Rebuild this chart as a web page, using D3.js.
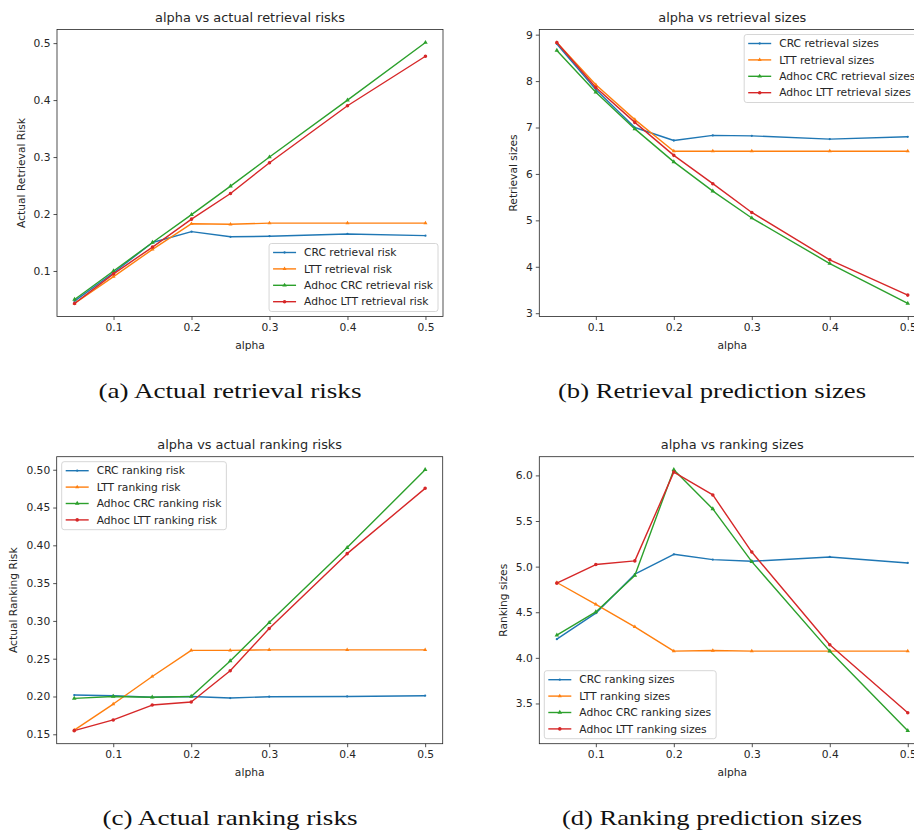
<!DOCTYPE html>
<html>
<head>
<meta charset="utf-8">
<script src="https://cdn.jsdelivr.net/npm/d3@7"></script>
<style>
  body { margin: 0; background: #fff; }
  svg text { font-family: "DejaVu Sans", sans-serif; fill: #262626; }
  .caption { font-family: "Liberation Serif", "DejaVu Serif", serif; fill: #111; }
</style>
</head>
<body>
<svg id="chart" width="914" height="830"></svg>
<script>
// alpha values shared by every panel
var alpha = [0.05, 0.1, 0.15, 0.2, 0.25, 0.3, 0.4, 0.5];

// (a) actual retrieval risks
var crcRetrievalRisk   = [0.047, 0.097, 0.150, 0.169, 0.160, 0.161, 0.165, 0.162];
var lttRetrievalRisk   = [0.043, 0.090, 0.138, 0.183, 0.182, 0.184, 0.184, 0.184];
var adhocCrcRetrRisk   = [0.050, 0.100, 0.150, 0.199, 0.249, 0.300, 0.400, 0.501];
var adhocLttRetrRisk   = [0.043, 0.095, 0.142, 0.191, 0.236, 0.290, 0.390, 0.477];

// (b) retrieval sizes
var crcRetrievalSize   = [8.80, 7.82, 7.00, 6.72, 6.83, 6.82, 6.75, 6.80];
var lttRetrievalSize   = [8.83, 7.92, 7.17, 6.49, 6.49, 6.49, 6.49, 6.49];
var adhocCrcRetrSize   = [8.66, 7.76, 6.97, 6.26, 5.63, 5.05, 4.07, 3.21];
var adhocLttRetrSize   = [8.83, 7.86, 7.11, 6.40, 5.79, 5.17, 4.15, 3.39];

// (c) actual ranking risks
var crcRankingRisk     = [0.2019, 0.2010, 0.1990, 0.2000, 0.1980, 0.1997, 0.2000, 0.2010];
var lttRankingRisk     = [0.1555, 0.1900, 0.2265, 0.2610, 0.2610, 0.2617, 0.2617, 0.2617];
var adhocCrcRankRisk   = [0.1975, 0.2000, 0.1990, 0.2000, 0.2470, 0.2978, 0.3970, 0.5000];
var adhocLttRankRisk   = [0.1548, 0.1690, 0.1887, 0.1927, 0.2340, 0.2900, 0.3890, 0.4754];

// (d) ranking sizes
var crcRankingSize     = [4.205, 4.490, 4.917, 5.135, 5.077, 5.059, 5.106, 5.040];
var lttRankingSize     = [4.826, 4.587, 4.340, 4.074, 4.081, 4.074, 4.074, 4.074];
var adhocCrcRankSize   = [4.249, 4.503, 4.903, 6.062, 5.633, 5.055, 4.074, 3.202];
var adhocLttRankSize   = [4.819, 5.023, 5.063, 6.036, 5.786, 5.160, 4.143, 3.398];

var xTicks = [0.1, 0.2, 0.3, 0.4, 0.5];
var colors = ["#1f77b4", "#ff7f0e", "#2ca02c", "#d62728"];

var panels = [
  {
    left: 57, top: 29.5, title: "alpha vs actual retrieval risks", ylabel: "Actual Retrieval Risk",
    series: [crcRetrievalRisk, lttRetrievalRisk, adhocCrcRetrRisk, adhocLttRetrRisk],
    names: ["CRC retrieval risk", "LTT retrieval risk", "Adhoc CRC retrieval risk", "Adhoc LTT retrieval risk"],
    yTicks: [0.1, 0.2, 0.3, 0.4, 0.5], fmt: ".1f", legend: "lower right",
    caption: "(a) Actual retrieval risks", capX: 230, capY: 398, capW: 263
  },
  {
    left: 539.3, top: 29.5, title: "alpha vs retrieval sizes", ylabel: "Retrieval sizes",
    series: [crcRetrievalSize, lttRetrievalSize, adhocCrcRetrSize, adhocLttRetrSize],
    names: ["CRC retrieval sizes", "LTT retrieval sizes", "Adhoc CRC retrieval sizes", "Adhoc LTT retrieval sizes"],
    yTicks: [3, 4, 5, 6, 7, 8, 9], fmt: "d", legend: "upper right",
    caption: "(b) Retrieval prediction sizes", capX: 712, capY: 398, capW: 308
  },
  {
    left: 56.7, top: 456.7, title: "alpha vs actual ranking risks", ylabel: "Actual Ranking Risk",
    series: [crcRankingRisk, lttRankingRisk, adhocCrcRankRisk, adhocLttRankRisk],
    names: ["CRC ranking risk", "LTT ranking risk", "Adhoc CRC ranking risk", "Adhoc LTT ranking risk"],
    yTicks: [0.15, 0.2, 0.25, 0.3, 0.35, 0.4, 0.45, 0.5], fmt: ".2f", legend: "upper left",
    caption: "(c) Actual ranking risks", capX: 230, capY: 825, capW: 255
  },
  {
    left: 539.3, top: 456.7, title: "alpha vs ranking sizes", ylabel: "Ranking sizes",
    series: [crcRankingSize, lttRankingSize, adhocCrcRankSize, adhocLttRankSize],
    names: ["CRC ranking sizes", "LTT ranking sizes", "Adhoc CRC ranking sizes", "Adhoc LTT ranking sizes"],
    yTicks: [3.5, 4.0, 4.5, 5.0, 5.5, 6.0], fmt: ".1f", legend: "lower left",
    caption: "(d) Ranking prediction sizes", capX: 712, capY: 825, capW: 300
  }
];

var W = 386, H = 287;
var fs = 10.7;
var svg = d3.select("#chart");

// matplotlib-like 5% margins
function padded(ext) {
  var d = (ext[1] - ext[0]) * 0.05;
  return [ext[0] - d, ext[1] + d];
}

// small markers, one shape per series
var markers = [
  d3.symbol().type(d3.symbolCircle).size(4),
  d3.symbol().type(d3.symbolTriangle).size(7),
  d3.symbol().type(d3.symbolTriangle).size(9),
  d3.symbol().type(d3.symbolCircle).size(10)
];

panels.forEach(function (p) {
  var g = svg.append("g").attr("transform", "translate(" + p.left + "," + p.top + ")");

  var x = d3.scaleLinear().domain(padded(d3.extent(alpha))).range([0, W]);
  var y = d3.scaleLinear().domain(padded(d3.extent(d3.merge(p.series)))).range([H, 0]);

  // x axis
  var xa = g.append("g")
    .attr("transform", "translate(0," + H + ")")
    .call(d3.axisBottom(x).tickValues(xTicks).tickFormat(d3.format(".1f")).tickSize(3.5).tickPadding(3));
  // y axis
  var ya = g.append("g")
    .call(d3.axisLeft(y).tickValues(p.yTicks).tickFormat(d3.format(p.fmt)).tickSize(3.5).tickPadding(3));

  [xa, ya].forEach(function (a) {
    a.select(".domain").remove();
    a.selectAll("line").attr("stroke", "#262626").attr("stroke-width", 0.8);
    a.selectAll("text").style("font-size", fs + "px").attr("fill", "#262626");
  });

  // lines
  var line = d3.line()
    .x(function (d, i) { return x(alpha[i]); })
    .y(function (d) { return y(d); });

  p.series.forEach(function (s, k) {
    g.append("path")
      .datum(s)
      .attr("d", line)
      .attr("fill", "none")
      .attr("stroke", colors[k])
      .attr("stroke-width", 1.4)
      .attr("stroke-linejoin", "round");
    g.selectAll(".m" + k)
      .data(s)
      .enter()
      .append("path")
      .attr("d", markers[k])
      .attr("transform", function (d, i) { return "translate(" + x(alpha[i]) + "," + y(d) + ")"; })
      .attr("fill", colors[k]);
  });

  // frame
  g.append("rect")
    .attr("width", W).attr("height", H)
    .attr("fill", "none").attr("stroke", "#262626").attr("stroke-width", 0.8);

  // title
  g.append("text")
    .attr("x", W / 2).attr("y", -8)
    .attr("text-anchor", "middle")
    .style("font-size", "12.9px")
    .text(p.title);

  // x label
  g.append("text")
    .attr("x", W / 2).attr("y", H + 32)
    .attr("text-anchor", "middle")
    .style("font-size", fs + "px")
    .text("alpha");

  // y label, placed left of the tick labels
  var tw = d3.max(ya.selectAll("text").nodes(), function (n) { return n.getComputedTextLength(); });
  g.append("text")
    .attr("transform", "translate(" + (-tw - 6.5 - 9) + "," + H / 2 + ") rotate(-90)")
    .attr("text-anchor", "middle")
    .style("font-size", fs + "px")
    .text(p.ylabel);

  // legend
  var lg = g.append("g");
  var box = lg.append("rect")
    .attr("fill", "#fff").attr("fill-opacity", 0.8)
    .attr("stroke", "#cccccc").attr("stroke-width", 0.8)
    .attr("rx", 2.5);
  var maxW = 0;
  p.names.forEach(function (n, k) {
    var row = lg.append("g").attr("transform", "translate(0," + (9 + k * 16.4) + ")");
    row.append("line")
      .attr("x1", 4).attr("x2", 27)
      .attr("stroke", colors[k]).attr("stroke-width", 1.4);
    row.append("path").attr("d", markers[k]).attr("transform", "translate(15.5,0)").attr("fill", colors[k]);
    var t = row.append("text")
      .attr("x", 35).attr("dy", "0.35em")
      .style("font-size", fs + "px")
      .text(n);
    maxW = Math.max(maxW, t.node().getComputedTextLength());
  });
  var bw = 35 + maxW + 5, bh = 68;
  box.attr("width", bw).attr("height", bh);
  var lx = p.legend.indexOf("right") >= 0 ? W - 5 - bw : 5;
  var ly = p.legend.indexOf("lower") >= 0 ? H - 5 - bh : 5;
  lg.attr("transform", "translate(" + lx + "," + ly + ")");

  // caption under the panel
  svg.append("text")
    .attr("class", "caption")
    .attr("x", p.capX).attr("y", p.capY)
    .attr("text-anchor", "middle")
    .attr("textLength", p.capW)
    .attr("lengthAdjust", "spacingAndGlyphs")
    .style("font-size", "21px")
    .text(p.caption);
});
</script>
</body>
</html>
